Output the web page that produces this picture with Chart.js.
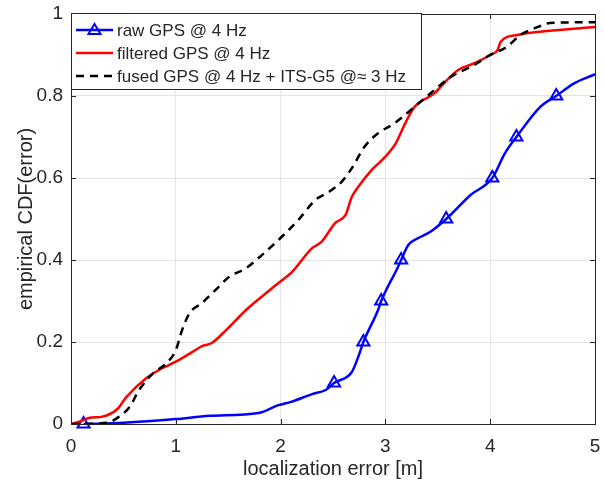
<!DOCTYPE html>
<html lang="en">
<head>
    <meta charset="UTF-8">
    <title>Empirical CDF of localization error</title>
    <script src="https://cdn.jsdelivr.net/npm/chart.js"></script>
    <style>
        body {
            margin: 0;
            padding: 0;
            background: #fff;
        }
        #wrap {
            width: 604px;
            height: 486px;
        }
    </style>
</head>
<body>
    <div id="wrap"><canvas id="cdfChart"></canvas></div>

    <script>
        // axis ticks
        const xTicks = [0, 1, 2, 3, 4, 5];
        const yTicks = [0, 0.2, 0.4, 0.6, 0.8, 1];

        // raw GPS @ 4 Hz
        const rawX = [0.12, 0.5, 1.0, 1.32, 1.79, 1.98, 2.1, 2.3, 2.43, 2.51, 2.68, 2.74, 2.79, 2.93, 2.96, 3.12, 3.15, 3.22, 3.31, 3.43, 3.58, 3.81, 4.02, 4.14, 4.25, 4.48, 4.63, 4.8, 5.0];
        const rawY = [0, 0.003, 0.012, 0.02, 0.027, 0.046, 0.054, 0.073, 0.083, 0.1, 0.127, 0.163, 0.2, 0.278, 0.3, 0.383, 0.4, 0.437, 0.453, 0.469, 0.5, 0.558, 0.6, 0.66, 0.7, 0.774, 0.8, 0.831, 0.853];
        // triangle markers on the raw curve
        const rawMarkX = [0.12, 2.51, 2.79, 2.96, 3.15, 3.58, 4.02, 4.25, 4.63];
        const rawMarkY = [0, 0.1, 0.2, 0.3, 0.4, 0.5, 0.6, 0.7, 0.8];

        // filtered GPS @ 4 Hz
        const filtX = [0, 0.05, 0.18, 0.3, 0.44, 0.53, 0.72, 0.87, 1.0, 1.16, 1.25, 1.34, 1.48, 1.67, 1.86, 1.98, 2.11, 2.3, 2.39, 2.52, 2.62, 2.68, 2.74, 2.87, 3.0, 3.1, 3.19, 3.28, 3.47, 3.57, 3.69, 3.85, 4.0, 4.07, 4.1, 4.26, 4.57, 5.0];
        const filtY = [0, 0.003, 0.015, 0.018, 0.036, 0.066, 0.112, 0.136, 0.152, 0.176, 0.19, 0.197, 0.229, 0.278, 0.319, 0.344, 0.371, 0.429, 0.444, 0.49, 0.51, 0.554, 0.578, 0.62, 0.652, 0.685, 0.734, 0.774, 0.807, 0.834, 0.863, 0.88, 0.9, 0.912, 0.932, 0.949, 0.959, 0.968];

        // fused GPS @ 4 Hz + ITS-G5
        const fusedX = [0, 0.34, 0.46, 0.56, 0.65, 0.78, 0.91, 1.0, 1.06, 1.13, 1.25, 1.38, 1.51, 1.67, 1.79, 1.98, 2.17, 2.33, 2.46, 2.58, 2.68, 2.8, 2.93, 3.09, 3.28, 3.47, 3.62, 3.85, 4.0, 4.16, 4.29, 4.45, 4.57, 5.0];
        const fusedY = [0, 0.003, 0.018, 0.042, 0.083, 0.123, 0.148, 0.18, 0.229, 0.27, 0.295, 0.327, 0.359, 0.38, 0.405, 0.449, 0.498, 0.546, 0.566, 0.59, 0.624, 0.676, 0.709, 0.734, 0.774, 0.815, 0.846, 0.876, 0.9, 0.92, 0.949, 0.968, 0.978, 0.98];

        const legendLabels = ['raw GPS @ 4 Hz', 'filtered GPS @ 4 Hz', 'fused GPS @ 4 Hz + ITS-G5 @\u2248 3 Hz'];

        const toPoints = (xs, ys) => xs.map((x, i) => ({ x: x, y: ys[i] }));
        const FONT = '"Liberation Sans", Arial, Helvetica, sans-serif';
        const AXIS = '#262626';

        // box, inward tick marks and legend, MATLAB style
        const matlabBox = {
            id: 'matlabBox',
            afterDraw(chart) {
                const ctx = chart.ctx;
                const a = chart.chartArea;
                const xs = chart.scales.x, ys = chart.scales.y;
                ctx.save();
                ctx.strokeStyle = AXIS;
                ctx.lineWidth = 1;
                ctx.beginPath();
                xTicks.forEach(v => {
                    const px = Math.round(xs.getPixelForValue(v)) + 0.5;
                    ctx.moveTo(px, a.bottom); ctx.lineTo(px, a.bottom - 5);
                    ctx.moveTo(px, a.top); ctx.lineTo(px, a.top + 5);
                });
                yTicks.forEach(v => {
                    const py = Math.round(ys.getPixelForValue(v)) + 0.5;
                    ctx.moveTo(a.left, py); ctx.lineTo(a.left + 5, py);
                    ctx.moveTo(a.right, py); ctx.lineTo(a.right - 5, py);
                });
                ctx.stroke();
                ctx.strokeRect(Math.round(a.left) + 0.5, Math.round(a.top) + 0.5,
                    Math.round(a.right - a.left), Math.round(a.bottom - a.top));

                // legend
                const lx = 71.5, ly = 13.5, lw = 350, lh = 76;
                ctx.fillStyle = '#fff';
                ctx.fillRect(lx, ly, lw, lh);
                ctx.strokeStyle = AXIS;
                ctx.strokeRect(lx, ly, lw, lh);
                const rows = [30, 53, 76];
                const styles = [
                    { color: '#0000ff', dash: [], marker: true },
                    { color: '#ff0000', dash: [], marker: false },
                    { color: '#000000', dash: [8, 6], marker: false }
                ];
                ctx.font = '17px ' + FONT;
                ctx.textBaseline = 'middle';
                rows.forEach((ry, i) => {
                    const s = styles[i];
                    ctx.strokeStyle = s.color;
                    ctx.lineWidth = 2.5;
                    ctx.setLineDash(s.dash);
                    ctx.beginPath();
                    ctx.moveTo(76, ry); ctx.lineTo(113, ry);
                    ctx.stroke();
                    ctx.setLineDash([]);
                    if (s.marker) {
                        ctx.lineWidth = 2;
                        ctx.beginPath();
                        ctx.moveTo(94.5, ry - 6);
                        ctx.lineTo(100.5, ry + 4);
                        ctx.lineTo(88.5, ry + 4);
                        ctx.closePath();
                        ctx.stroke();
                    }
                    ctx.fillStyle = AXIS;
                    ctx.fillText(legendLabels[i], 117, ry + 1);
                });
                ctx.restore();
            }
        };

        const ctx = document.getElementById('cdfChart').getContext('2d');
        const cdfChart = new Chart(ctx, {
            type: 'scatter',
            data: {
                datasets: [
                    {
                        label: legendLabels[2],
                        data: toPoints(fusedX, fusedY),
                        showLine: true,
                        borderColor: '#000000',
                        borderWidth: 2.5,
                        borderDash: [8, 6],
                        pointRadius: 0,
                        cubicInterpolationMode: 'monotone',
                        order: 0
                    },
                    {
                        label: legendLabels[1],
                        data: toPoints(filtX, filtY),
                        showLine: true,
                        borderColor: '#ff0000',
                        borderWidth: 2.5,
                        pointRadius: 0,
                        cubicInterpolationMode: 'monotone',
                        order: 1
                    },
                    {
                        label: legendLabels[0],
                        data: toPoints(rawX, rawY),
                        showLine: true,
                        borderColor: '#0000ff',
                        borderWidth: 2.5,
                        pointRadius: 0,
                        cubicInterpolationMode: 'monotone',
                        order: 2
                    },
                    {
                        label: 'raw markers',
                        data: toPoints(rawMarkX, rawMarkY),
                        showLine: false,
                        pointStyle: 'triangle',
                        pointRadius: 7,
                        pointBorderWidth: 2,
                        pointBorderColor: '#0000ff',
                        pointBackgroundColor: 'rgba(0,0,0,0)',
                        clip: false,
                        order: 2
                    }
                ]
            },
            options: {
                responsive: true,
                maintainAspectRatio: false,
                animation: false,
                layout: {
                    padding: { top: 14, right: 5, left: 0, bottom: 0 }
                },
                plugins: {
                    legend: { display: false },
                    tooltip: { enabled: false }
                },
                scales: {
                    x: {
                        type: 'linear',
                        min: 0,
                        max: 5,
                        afterBuildTicks: s => { s.ticks = xTicks.map(v => ({ value: v })); },
                        afterFit: s => { s.height = 62; s.paddingLeft = 0; s.paddingRight = 0; },
                        grid: { color: '#e3e3e3', drawTicks: false },
                        border: { display: false },
                        ticks: {
                            color: AXIS,
                            padding: 11,
                            callback: v => String(v),
                            font: { family: FONT, size: 19 }
                        },
                        title: {
                            display: true,
                            text: 'localization error [m]',
                            color: AXIS,
                            padding: { top: 0, bottom: 5 },
                            font: { family: FONT, size: 20 }
                        }
                    },
                    y: {
                        type: 'linear',
                        min: 0,
                        max: 1,
                        afterBuildTicks: s => { s.ticks = yTicks.map(v => ({ value: v })); },
                        afterFit: s => { s.width = 71; s.paddingTop = 0; s.paddingBottom = 0; },
                        grid: { color: '#e3e3e3', drawTicks: false },
                        border: { display: false },
                        ticks: {
                            color: AXIS,
                            padding: 8,
                            callback: v => String(v),
                            font: { family: FONT, size: 19 }
                        },
                        title: {
                            display: true,
                            text: 'empirical CDF(error)',
                            color: AXIS,
                            padding: { top: 14, bottom: 0 },
                            font: { family: FONT, size: 20 }
                        }
                    }
                }
            },
            plugins: [matlabBox]
        });
    </script>
</body>
</html>
